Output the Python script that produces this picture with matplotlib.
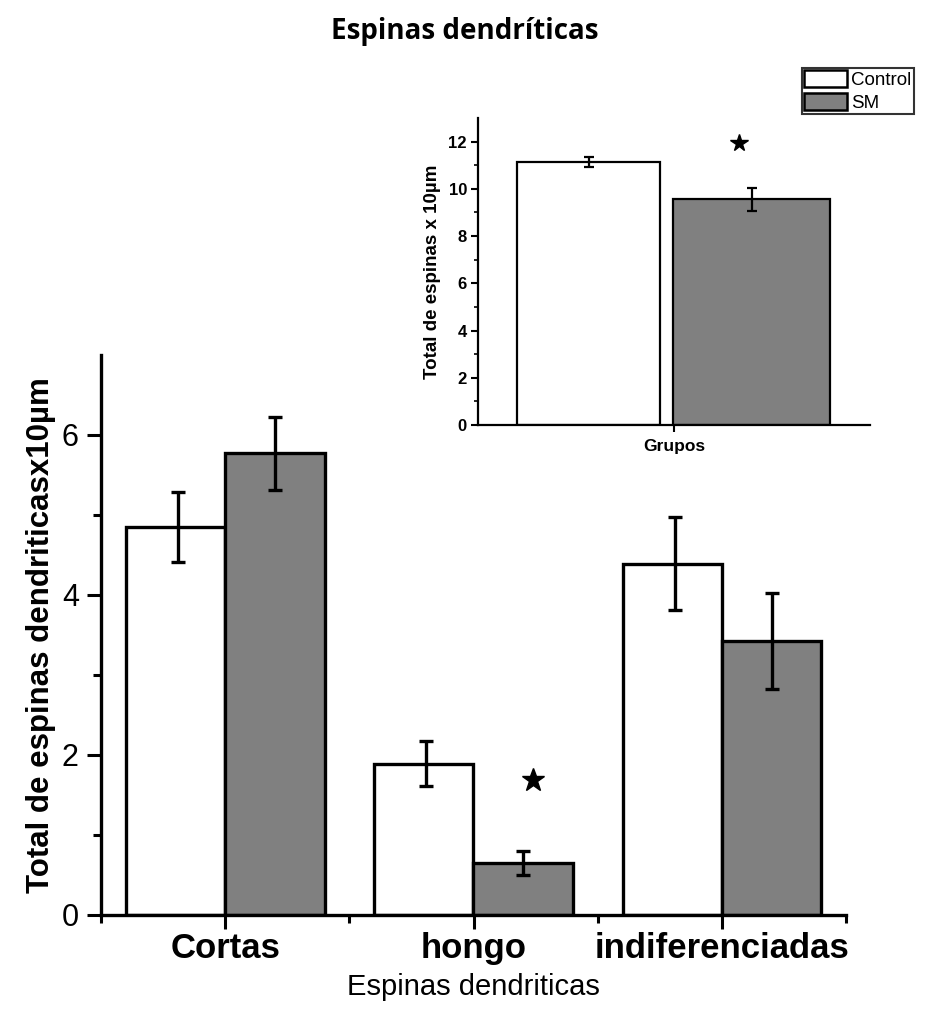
import matplotlib
matplotlib.use("Agg")
import matplotlib.pyplot as plt
import numpy as np
from matplotlib.patches import Patch
from matplotlib.ticker import FixedLocator

plt.rcParams['font.family'] = ['Liberation Sans', 'DejaVu Sans']

# ---- data ----
categories = ["Cortas", "hongo", "indiferenciadas"]
control = [4.85, 1.89, 4.39]
control_err = [0.44, 0.28, 0.58]
sm = [5.77, 0.65, 3.43]
sm_err = [0.46, 0.15, 0.60]
star_main = (1.24, 1.69)

inset_labels = ["Control", "SM"]
inset_values = [11.15, 9.55]
inset_err = [0.21, 0.48]
star_inset = (0.667, 11.96)

W, H = 925, 1015
fig = plt.figure(figsize=(W / 100, H / 100), dpi=100)

GRAY = "#808080"

# ---- main axes ----
ax = fig.add_axes([101 / W, 1 - 915 / H, (846 - 101) / W, (915 - 355) / H])
x = np.arange(len(categories))
bw = 0.4
ax.bar(x - bw / 2, control, bw, color="white", edgecolor="black", linewidth=2.4, zorder=2)
ax.bar(x + bw / 2, sm, bw, color=GRAY, edgecolor="black", linewidth=2.4, zorder=2)
ax.errorbar(x - 0.19, control, yerr=control_err, fmt="none", ecolor="black",
            elinewidth=2.4, capsize=5, capthick=2.4, zorder=3)
ax.errorbar(x + 0.2, sm, yerr=sm_err, fmt="none", ecolor="black",
            elinewidth=2.4, capsize=5, capthick=2.4, zorder=3)
ax.plot([star_main[0]], [star_main[1]], marker="*", color="black", markersize=17, zorder=4)

ax.set_xlim(-0.5, 2.5)
ax.set_ylim(0, 7)
for s in ["top", "right"]:
    ax.spines[s].set_visible(False)
for s in ["left", "bottom"]:
    ax.spines[s].set_linewidth(2.4)
ax.set_xticks(x)
ax.set_xticklabels(categories, fontsize=25, fontweight="bold")
ax.xaxis.set_minor_locator(FixedLocator([-0.5, 0.5, 1.5, 2.5]))
ax.set_yticks([0, 2, 4, 6])
ax.set_yticklabels(["0", "2", "4", "6"], fontsize=22)
ax.yaxis.set_minor_locator(FixedLocator([1, 3, 5]))
ax.tick_params(axis="x", which="major", direction="out", length=10, width=2.2, pad=2)
ax.tick_params(axis="y", which="major", direction="out", length=10, width=2.2, pad=6)
ax.tick_params(axis="both", which="minor", direction="out", length=6, width=2.2)
ax.set_xlabel("Espinas dendriticas", fontsize=21, labelpad=6)
ax.set_ylabel("Total de espinas dendriticasx10µm", fontsize=22.5, fontweight="bold", labelpad=4)
ax.set_facecolor("none")

# ---- inset axes ----
ai = fig.add_axes([478 / W, 1 - 425 / H, (870 - 478) / W, (425 - 118) / H])
lefts = [0.10, 0.498]
widths = [0.364, 0.401]
colors = ["white", GRAY]
for l, w, v, c in zip(lefts, widths, inset_values, colors):
    ai.bar(l, v, w, align="edge", color=c, edgecolor="black", linewidth=1.6, zorder=2)
centers = [0.282, 0.7]
ai.errorbar(centers, inset_values, yerr=inset_err, fmt="none", ecolor="black",
            elinewidth=1.6, capsize=3.5, capthick=1.6, zorder=3)
ai.plot([star_inset[0]], [star_inset[1]], marker="*", color="black", markersize=13, zorder=4)
ai.set_xlim(0, 1)
ai.set_ylim(0, 13)
for s in ["top", "right"]:
    ai.spines[s].set_visible(False)
for s in ["left", "bottom"]:
    ai.spines[s].set_linewidth(1.6)
ai.set_xticks([0.5])
ai.set_xticklabels([""])
ai.set_yticks([0, 2, 4, 6, 8, 10, 12])
ai.set_yticklabels([str(v) for v in [0, 2, 4, 6, 8, 10, 12]], fontsize=12, fontweight="bold")
ai.yaxis.set_minor_locator(FixedLocator([1, 3, 5, 7, 9, 11]))
ai.tick_params(axis="both", which="major", direction="out", length=5, width=1.5, pad=3)
ai.tick_params(axis="both", which="minor", direction="out", length=3, width=1.2)
ai.set_xlabel("Grupos", fontsize=12.5, fontweight="bold", labelpad=2)
ai.set_ylabel("Total de espinas x 10µm", fontsize=13.5, fontweight="bold", labelpad=5)
ai.set_facecolor("none")

# ---- legend ----
handles = [Patch(facecolor="white", edgecolor="black", linewidth=1.8),
           Patch(facecolor=GRAY, edgecolor="black", linewidth=1.8)]
leg = fig.legend(handles, inset_labels, loc="upper left",
                 bbox_to_anchor=(802 / W, 1 - 68 / H), fontsize=13.5,
                 frameon=True, fancybox=False, edgecolor="black",
                 borderpad=0.12, handlelength=2.3, handleheight=1.0,
                 handletextpad=0.2, labelspacing=0.2, borderaxespad=0)
leg.get_frame().set_linewidth(1.5)

# ---- title ----
fig.text(465 / W, 1 - 32 / H, "Espinas dendríticas", ha="center", va="center",
         fontsize=20, fontweight="bold", family=["Open Sans", "DejaVu Sans"])

fig.savefig("out.png", dpi=100)
